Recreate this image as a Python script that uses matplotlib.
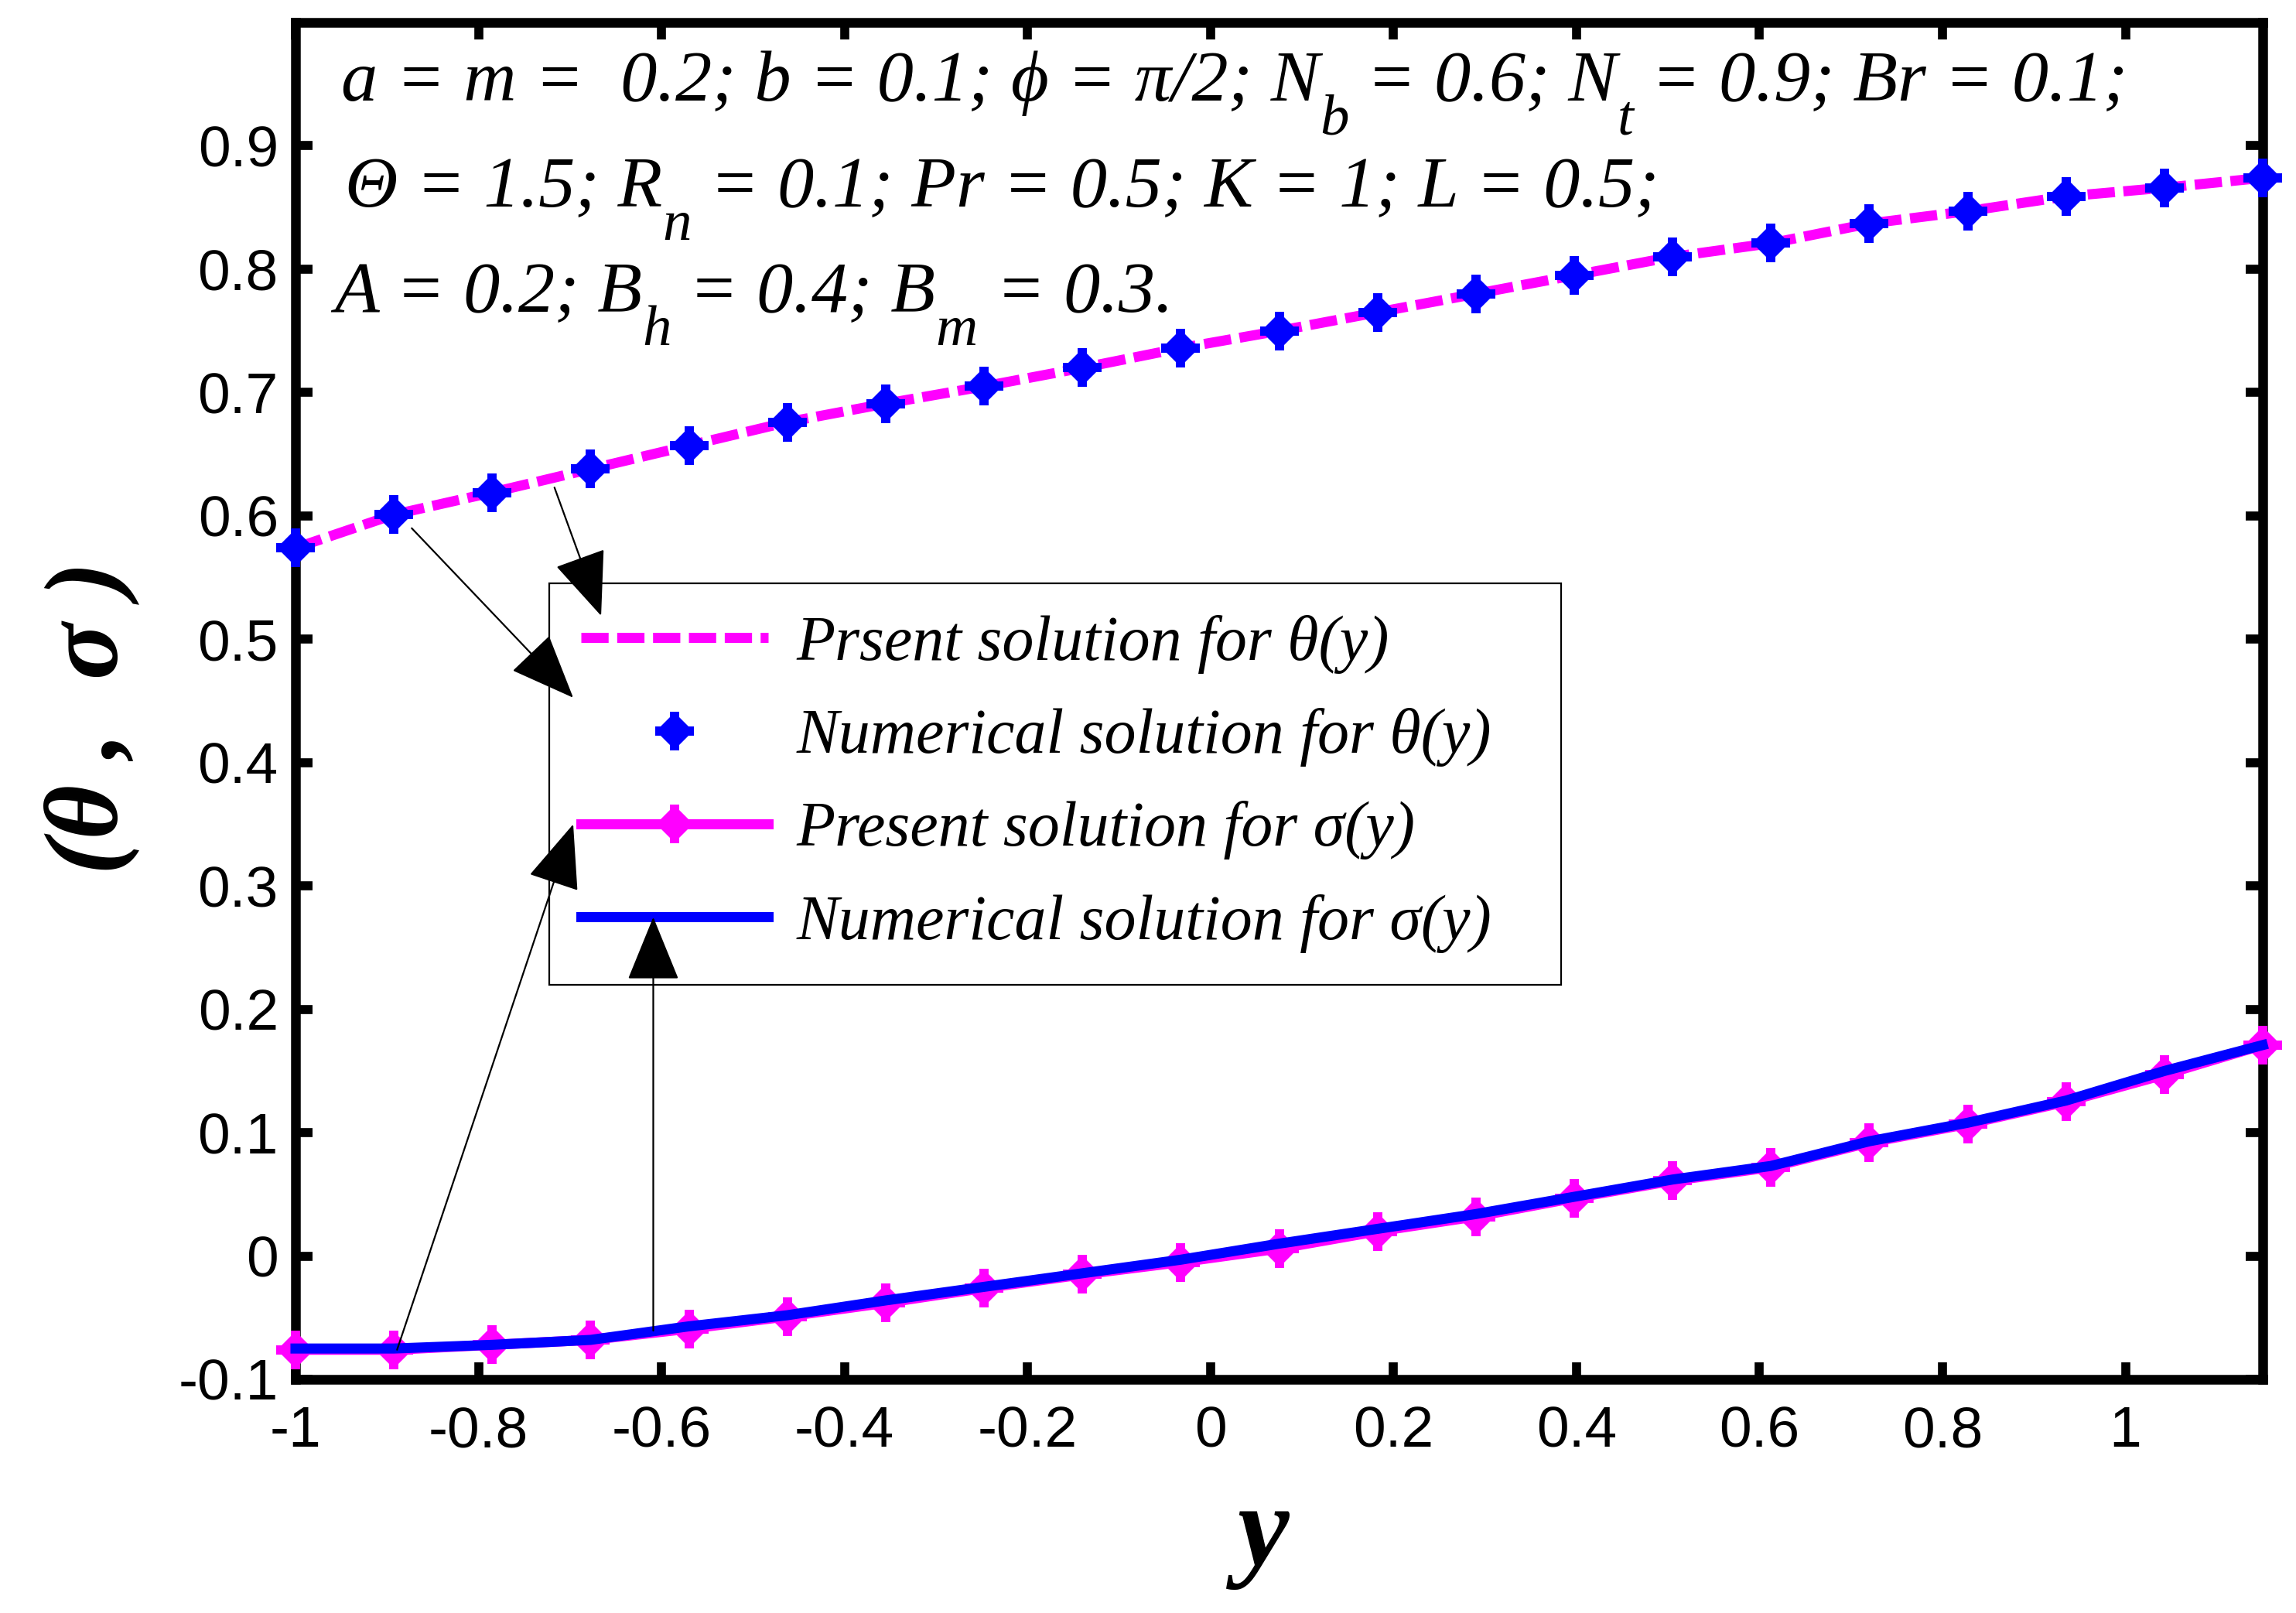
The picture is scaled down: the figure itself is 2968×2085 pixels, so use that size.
import matplotlib
matplotlib.use("Agg")
import matplotlib.pyplot as plt
from matplotlib.font_manager import FontProperties
from matplotlib.legend_handler import HandlerTuple

# ---------------- data ----------------
y_vals = [-1.0, -0.8925, -0.785, -0.6775, -0.57, -0.4625, -0.355, -0.2475, -0.14,
          -0.0325, 0.075, 0.1825, 0.29, 0.3975, 0.505, 0.6125, 0.72, 0.8275,
          0.935, 1.0425, 1.15]
theta_present = [0.574, 0.601, 0.619, 0.638, 0.657, 0.676, 0.691, 0.705, 0.720,
                 0.736, 0.750, 0.765, 0.780, 0.795, 0.810, 0.821, 0.837, 0.847,
                 0.859, 0.866, 0.874]
theta_numerical = [0.574, 0.601, 0.619, 0.638, 0.657, 0.676, 0.691, 0.705, 0.720,
                   0.736, 0.750, 0.765, 0.780, 0.795, 0.810, 0.821, 0.837, 0.847,
                   0.859, 0.866, 0.874]
sigma_present = [-0.076, -0.076, -0.072, -0.068, -0.059, -0.049, -0.038, -0.026,
                 -0.015, -0.005, 0.006, 0.020, 0.032, 0.047, 0.061, 0.072, 0.092,
                 0.107, 0.125, 0.147, 0.171]
sigma_numerical = [-0.075, -0.075, -0.072, -0.068, -0.057, -0.048, -0.036, -0.025,
                   -0.014, -0.003, 0.010, 0.022, 0.034, 0.048, 0.062, 0.073, 0.093,
                   0.108, 0.126, 0.150, 0.171]

xticks = [-1, -0.8, -0.6, -0.4, -0.2, 0, 0.2, 0.4, 0.6, 0.8, 1]
xtick_labels = ["-1", "-0.8", "-0.6", "-0.4", "-0.2", "0", "0.2", "0.4", "0.6", "0.8", "1"]
yticks = [-0.1, 0, 0.1, 0.2, 0.3, 0.4, 0.5, 0.6, 0.7, 0.8, 0.9]
ytick_labels = ["-0.1", "0", "0.1", "0.2", "0.3", "0.4", "0.5", "0.6", "0.7", "0.8", "0.9"]

legend_labels = ["Prsent solution for θ(y)", "Numerical solution for θ(y)",
                 "Present solution for σ(y)", "Numerical solution for σ(y)"]

# annotation lines: (text, is_subscript)
info_lines = [
    [("a = m =  0.2; b = 0.1; ϕ = π/2; N", False), ("b", True), (" = 0.6; N", False),
     ("t", True), (" = 0.9; Br = 0.1;", False)],
    [("Θ = 1.5; R", False), ("n", True), (" = 0.1; Pr = 0.5; K = 1; L = 0.5;", False)],
    [("A = 0.2; B", False), ("h", True), (" = 0.4; B", False), ("m", True), (" = 0.3.", False)],
]

# arrows: (tail, head) in data coordinates
arrows = [((-0.717, 0.623), (-0.666, 0.519)),
          ((-0.873, 0.590), (-0.6965, 0.4526)),
          ((-0.889, -0.076), (-0.6965, 0.350)),
          ((-0.609, -0.0605), (-0.609, 0.2747))]

MAG = "#FF00FF"
BLU = "#0000FF"
W, H = 2968, 2085
DPI = 200

serif = ["Liberation Serif", "DejaVu Serif"]
sans = ["Liberation Sans", "DejaVu Sans"]

fig = plt.figure(figsize=(W / DPI, H / DPI), dpi=DPI)
ax = fig.add_axes([382 / W, 1 - 1783 / H, (2925 - 382) / W, (1783 - 29) / H])

LW = 4.7
DMS = 12.2
PMS = 18.0
PMEW = 4.3
# theta present (dashed magenta)
l1, = ax.plot(y_vals, theta_present, color=MAG, lw=LW, ls=(0, (2.7, 0.85)),
              zorder=4, clip_on=False, dash_capstyle="butt")
# theta numerical (blue diamond+plus markers)
m1a, = ax.plot(y_vals, theta_numerical, ls="none", marker="D", ms=DMS, mew=0,
               color=BLU, zorder=5, clip_on=False)
m1b, = ax.plot(y_vals, theta_numerical, ls="none", marker="+", ms=PMS, mew=PMEW,
               color=BLU, zorder=5, clip_on=False)
# sigma present (magenta solid with markers)
l2, = ax.plot(y_vals, sigma_present, color=MAG, lw=LW, zorder=4, clip_on=False)
m2a, = ax.plot(y_vals, sigma_present, ls="none", marker="D", ms=DMS, mew=0,
               color=MAG, zorder=4, clip_on=False)
m2b, = ax.plot(y_vals, sigma_present, ls="none", marker="+", ms=PMS, mew=PMEW,
               color=MAG, zorder=4, clip_on=False)
# sigma numerical (blue solid)
l3, = ax.plot(y_vals, sigma_numerical, color=BLU, lw=LW, zorder=5, clip_on=False,
              solid_joinstyle="miter")

ax.set_xlim(-1, 1.15)
ax.set_ylim(-0.1, 1.0)
ax.set_xticks(xticks)
ax.set_xticklabels(xtick_labels)
ax.set_yticks(yticks)
ax.set_yticklabels(ytick_labels)
for lab in ax.get_xticklabels() + ax.get_yticklabels():
    lab.set_family(sans)
    lab.set_fontsize(27)
ax.tick_params(axis="both", direction="in", length=8, width=4.2, top=True, right=True)
ax.tick_params(axis="x", pad=12)
ax.tick_params(axis="y", pad=8)
for sp in ax.spines.values():
    sp.set_linewidth(4.5)

# legend
prop = FontProperties(family=serif, style="italic", size=29.5)
leg = ax.legend([l1, (m1a, m1b), (l2, m2a, m2b), l3], legend_labels,
                handler_map={tuple: HandlerTuple(ndivide=1, pad=0)},
                loc="upper left",
                bbox_to_anchor=(710 / W, 1 - 1249 / H, 1308 / W, 495 / H),
                mode="expand",
                bbox_transform=fig.transFigure, borderaxespad=0, borderpad=0.5,
                handlelength=2.95, handletextpad=0.45, labelspacing=0.54,
                prop=prop, fancybox=False, framealpha=1, edgecolor="black",
                numpoints=1)
leg.get_frame().set_linewidth(0.8)
leg.set_zorder(5.5)

# arrows
for tail, head in arrows:
    ax.annotate("", xy=head, xytext=tail, xycoords="data", textcoords="data",
                arrowprops=dict(arrowstyle="-|>,head_length=27,head_width=11",
                                mutation_scale=1, color="black", lw=0.8,
                                shrinkA=0, shrinkB=0),
                zorder=7, annotation_clip=False)

# parameter text with subscripts
renderer = fig.canvas.get_renderer()
main_size = 34
sub_size = 27
sub_drop = 15.5 * DPI / 72.0  # pixels
starts = [(441, 130), (446, 267), (432, 403)]
for (x0, b0), pieces in zip(starts, info_lines):
    xp = x0
    for txt, is_sub in pieces:
        yb = b0 + (sub_drop if is_sub else 0)
        t = fig.text(xp / W, 1 - yb / H, txt, fontsize=sub_size if is_sub else main_size,
                     family=serif, style="italic", ha="left", va="baseline",
                     zorder=8)
        bb = t.get_window_extent(renderer=renderer)
        xp = bb.x1

# axis labels
fig.text(118 / W, 1 - 928 / H, "(θ ,  σ )", rotation=90, ha="center", va="center",
         fontsize=49, family=serif, style="italic", weight="bold")
fig.text(1632 / W, 1 - 2023 / H, "y", ha="center", va="baseline",
         fontsize=54, family=serif, style="italic", weight="bold")

fig.savefig("out.png", dpi=DPI)
